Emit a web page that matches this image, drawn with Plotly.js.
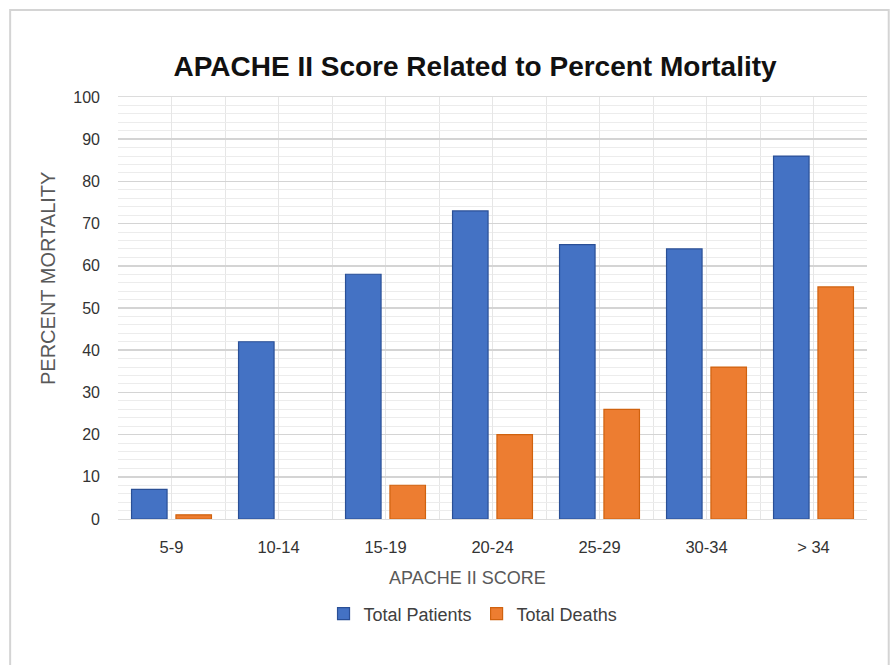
<!DOCTYPE html>
<html>
<head>
<meta charset="utf-8">
<script src="https://cdn.plot.ly/plotly-3.0.1.min.js"></script>
<style>html,body{margin:0;padding:0;background:#fff;}#chart{width:893px;height:665px;}</style>
</head>
<body>
<div id="chart"></div>
<script>
// Data
const categories = ["5-9", "10-14", "15-19", "20-24", "25-29", "30-34", "> 34"];
const totalPatients = [7, 42, 58, 73, 65, 64, 86];
const totalDeaths = [1, 0, 8, 20, 26, 36, 55];
const yTicks = [0, 10, 20, 30, 40, 50, 60, 70, 80, 90, 100];

const xIdx = categories.map((c, i) => i);
const font = "Liberation Sans, Arial, sans-serif";

const traces = [
  {
    type: "bar", name: "Total Patients", x: xIdx, y: totalPatients,
    marker: { color: "#4472C4", line: { color: "#2A4F96", width: totalPatients.map(v => v > 0 ? 1.2 : 0) } },
    hoverinfo: "skip"
  },
  {
    type: "bar", name: "Total Deaths", x: xIdx, y: totalDeaths,
    marker: { color: "#ED7D31", line: { color: "#D0620F", width: totalDeaths.map(v => v > 0 ? 1.2 : 0) } },
    hoverinfo: "skip"
  }
];

const layout = {
  width: 893, height: 665,
  margin: { l: 118, r: 26, t: 97, b: 146 },
  paper_bgcolor: "#ffffff", plot_bgcolor: "#ffffff",
  barmode: "group", bargap: 0.17, bargroupgap: 0.2,
  title: {
    text: "<b>APACHE II Score Related to Percent Mortality</b>",
    font: { family: font, size: 28, color: "#111111" },
    x: 0.532, xref: "container", xanchor: "center",
    y: 0.9, yref: "container", yanchor: "middle"
  },
  xaxis: {
    range: [-0.5, categories.length - 0.5],
    tickmode: "array", tickvals: xIdx, ticktext: categories,
    tickfont: { family: font, size: 16.5, color: "#333333" },
    ticks: "", ticklabelstandoff: 13,
    showgrid: true, gridcolor: "#e6e6e6", gridwidth: 1,
    minor: { tickmode: "linear", tick0: -0.5, dtick: 1, showgrid: true, gridcolor: "#e6e6e6", gridwidth: 1, ticks: "" },
    showline: true, mirror: true, linecolor: "#dcdcdc", linewidth: 1,
    zeroline: false, fixedrange: true
  },
  yaxis: {
    range: [0, 100],
    tickmode: "array", tickvals: yTicks,
    tickfont: { family: font, size: 16, color: "#333333" },
    ticks: "", ticklabelstandoff: 17,
    showgrid: true, gridcolor: "#d4d4d4", gridwidth: 1.5,
    minor: { tickmode: "linear", tick0: 0, dtick: 2, showgrid: true, gridcolor: "#ececec", gridwidth: 1, ticks: "" },
    zeroline: false, showline: false, fixedrange: true
  },
  showlegend: true,
  legend: {
    orientation: "h", x: 0.474, xanchor: "center", y: -0.225, yanchor: "middle",
    font: { family: font, size: 18, color: "#404040" },
    itemclick: false, itemdoubleclick: false
  },
  annotations: [
    {
      text: "APACHE II SCORE", xref: "paper", yref: "paper",
      x: 0.466, y: -0.14, xanchor: "center", yanchor: "middle", showarrow: false,
      font: { family: font, size: 18, color: "#595959" }
    },
    {
      text: "PERCENT MORTALITY", xref: "paper", yref: "paper", textangle: -90,
      x: -0.0935, y: 0.571, xanchor: "center", yanchor: "middle", showarrow: false,
      font: { family: font, size: 20, color: "#595959" }
    }
  ],
  shapes: [
    {
      type: "rect", xref: "paper", yref: "paper", layer: "below",
      x0: -0.144, x1: 1.029, y0: -0.36, y1: 1.206,
      line: { color: "#d4d4d4", width: 2 }, fillcolor: "rgba(0,0,0,0)"
    }
  ]
};

Plotly.newPlot("chart", traces, layout, { displayModeBar: false, staticPlot: true });
</script>
</body>
</html>
